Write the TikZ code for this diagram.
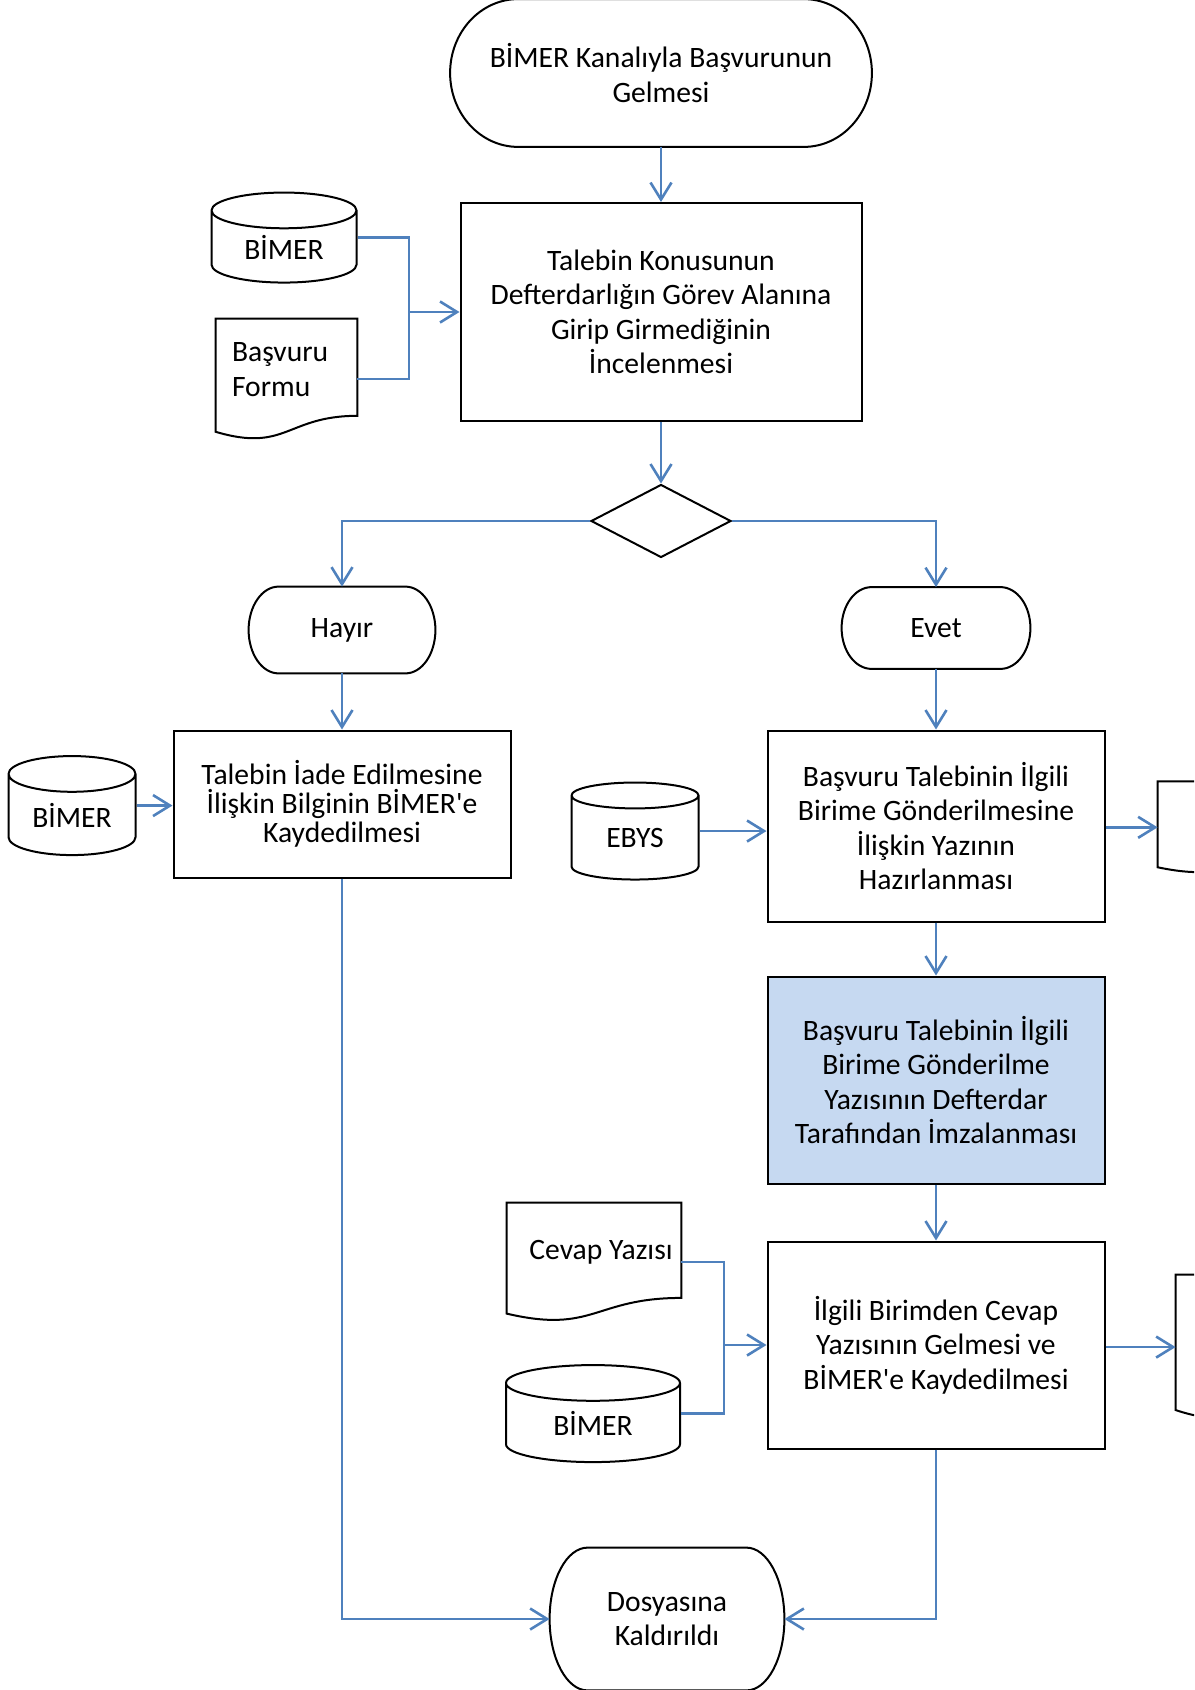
\documentclass[tikz,border=0pt]{standalone}
\usepackage{fontspec}
\setmainfont{Carlito}
\usepackage{tikz}
\usetikzlibrary{
    arrows.meta,
    positioning,
    calc,
    shapes.geometric
}
\definecolor{FlowBlue}{RGB}{79,129,189}
\definecolor{SignFill}{RGB}{198,217,241}

\tikzset{
    outline/.style={draw=black, line width=1pt},
    txt/.style={font=\fontsize{14.8}{17.25}\selectfont, align=center, inner sep=0pt},
    procbox/.style={outline, txt, rectangle, minimum width=168.5pt},
    termnode/.style={txt, rectangle},
    docnode/.style={txt, rectangle},
    dbcyl/.style={outline, txt, cylinder, shape border rotate=90, aspect=0.45},
    decbox/.style={outline, diamond, inner sep=0pt, minimum width=70pt, minimum height=36.5pt},
    link/.style={draw=FlowBlue, line width=1.3pt},
    flow/.style={link, -{Straight Barb[length=8.5pt, width=10.5pt]}}
}

% terminator outline: node name, end radius
\newcommand{\termoutline}[2]{%
    \draw[outline]
    let \p1=(#1.north east), \p2=(#1.south west), \n1={(\y1-\y2)/2} in
    (\x2+#2,\y1) -- (\x1-#2,\y1)
    arc[start angle=90, end angle=-90, x radius=#2, y radius=\n1]
    -- (\x2+#2,\y2)
    arc[start angle=270, end angle=90, x radius=#2, y radius=\n1]
    -- cycle;%
}

% document outline with wavy foot
\newcommand{\docoutline}[1]{%
    \draw[outline]
    (#1.north west) -- (#1.north east)
    -- ($(#1.north east)!0.955!(#1.south east)$)
    .. controls ($(#1.north)!0.955!(#1.south)$) and ($(#1.north)!1.318!(#1.south)$)
    .. ($(#1.north west)!1.112!(#1.south west)$)
    -- cycle;%
}

% halfway point of a cylinder
\newcommand{\cylmid}[1]{%
    \coordinate (#1-mid) at ($(#1.north)!0.5!(#1.south)$);%
}

\begin{document}
\begin{tikzpicture}[x=0.5pt,y=-0.5pt]
%
    \useasboundingbox (0,0) rectangle (1194,1690);
    \clip (0,0) rectangle (1194,1690);
%
    % start
    \node[termnode, minimum width=210.5pt, minimum height=73.5pt] (start) at (661,73)
        {BİMER Kanalıyla Başvurunun\\Gelmesi};
    \termoutline{start}{34pt}
%
    \node[procbox, minimum width=200.5pt, minimum height=109pt] (review) at (661,312)
        {Talebin Konusunun\\Defterdarlığın Görev Alanına\\Girip Girmediğinin\\İncelenmesi};
%
    \node[dbcyl, minimum width=72.5pt, minimum height=45pt] (dbtop) at (284,247) {BİMER};
    \cylmid{dbtop}
%
    \node[docnode, align=left, text width=54.5pt, inner xsep=8pt, minimum height=50.5pt] (formu) at (286.5,369.5)
        {Başvuru\\Formu};
    \docoutline{formu}
%
    \node[decbox] (dec) at (661,521) {};
%
    \node[termnode, minimum width=93pt, minimum height=43pt] (hayir) at (342,630) {Hayır};
    \termoutline{hayir}{15pt}
%
    \node[termnode, minimum width=94pt, minimum height=40.5pt] (evet) at (936,628) {Evet};
    \termoutline{evet}{15pt}
%
    \node[procbox, minimum height=73.5pt, font=\fontsize{14.8}{14.5}\selectfont] (iade) at (342,804)
        {Talebin İade Edilmesine\\İlişkin Bilginin BİMER\textquotesingle e\\Kaydedilmesi};
%
    \node[dbcyl, minimum width=63.5pt, minimum height=49.5pt] (dbleft) at (72,815) {BİMER};
    \cylmid{dbleft}
%
    \node[procbox, minimum height=95.5pt] (prep) at (936,826)
        {Başvuru Talebinin İlgili\\Birime Gönderilmesine\\İlişkin Yazının\\Hazırlanması};
%
    \node[dbcyl, minimum width=63.5pt, minimum height=48.5pt] (ebys) at (635,838) {EBYS};
    \cylmid{ebys}
%
    \node[docnode, minimum width=75pt, minimum height=38.2pt] (outa) at (1233,820) {};
    \docoutline{outa}
%
    \node[procbox, fill=SignFill, minimum height=103.5pt] (sign) at (936,1080)
        {Başvuru Talebinin İlgili\\Birime Gönderilme\\Yazısının Defterdar\\Tarafından İmzalanması};
%
    \node[procbox, minimum height=103.5pt] (reply) at (936,1345)
        {İlgili Birimden Cevap\\Yazısının Gelmesi ve\\BİMER\textquotesingle e Kaydedilmesi};
%
    \node[docnode, minimum width=87pt, minimum height=49.5pt] (cevap) at (594,1252.5) {\hspace*{7pt}Cevap Yazısı};
    \docoutline{cevap}
%
    \node[dbcyl, minimum width=87pt, minimum height=48.5pt] (dbbot) at (593,1423) {BİMER};
    \cylmid{dbbot}
%
    \node[docnode, minimum width=75pt, minimum height=60.5pt] (outb) at (1251,1335.5) {};
    \docoutline{outb}
%
    \node[termnode, minimum width=117pt, minimum height=71pt] (finish) at (667,1619)
        {Dosyasına\\Kaldırıldı};
    \termoutline{finish}{19pt}
%
    % junction and entry points
    \coordinate (jtop) at (409,312);
    \coordinate (jbot) at (724,1345);
    \coordinate (outain) at ($(outa.north west)!0.595!(outa.south west)$);
    \coordinate (outbin) at ($(outb.north west)!0.595!(outb.south west)$);
%
    % connectors
    \draw[flow] (start) -- (review);
    \draw[link] (dbtop-mid -| dbtop.east) -| (jtop);
    \draw[link] ($(formu.north east)!0.595!(formu.south east)$) -| (jtop);
    \draw[flow] (jtop) -- (review.west);
    \draw[flow] (review) -- (dec);
    \draw[flow] (dec.west) -| (hayir.north);
    \draw[flow] (dec.east) -| (evet.north);
    \draw[flow] (hayir) -- (iade);
    \draw[flow] (evet) -- (prep);
    \draw[flow] (dbleft-mid -| dbleft.east) -- (dbleft-mid -| iade.west);
    \draw[flow] (ebys-mid -| ebys.east) -- (ebys-mid -| prep.west);
    \draw[flow] (prep.east |- outain) -- (outain);
    \draw[flow] (prep) -- (sign);
    \draw[flow] (sign) -- (reply);
    \draw[link] ($(cevap.north east)!0.595!(cevap.south east)$) -| (jbot);
    \draw[link] (dbbot-mid -| dbbot.east) -| (jbot);
    \draw[flow] (jbot) -- (reply.west);
    \draw[flow] (reply.east |- outbin) -- (outbin);
    \draw[flow] (iade.south) |- (finish.west);
    \draw[flow] (reply.south) |- (finish.east);
%
\end{tikzpicture}
\end{document}
